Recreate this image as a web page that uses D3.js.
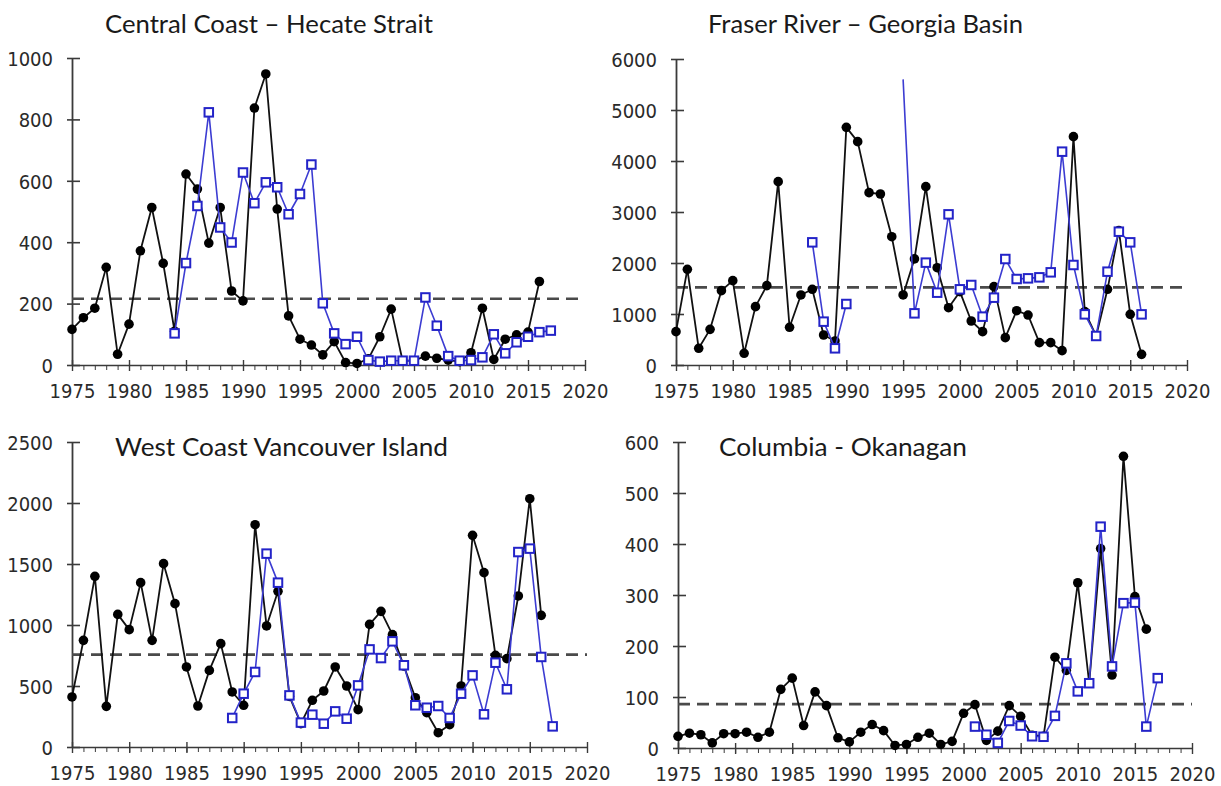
<!DOCTYPE html>
<html>
<head>
<meta charset="utf-8">
<script src="https://cdn.jsdelivr.net/npm/d3@7"></script>
<style>
  html, body { margin: 0; padding: 0; background: #fff; }
  svg { display: block; }
  .tick text { font-family: "DejaVu Sans Condensed", "DejaVu Sans", sans-serif; font-stretch: condensed; font-size: 20px; fill: #2a2a2a; }
  .title { font-family: Lato, "Open Sans", sans-serif; font-size: 25px; fill: #1a1a1a; }
</style>
</head>
<body>
<svg id="chart" width="1221" height="786"></svg>
<script>
// ---------- DATA ----------
const xTickYears = [1975, 1980, 1985, 1990, 1995, 2000, 2005, 2010, 2015, 2020];

// Central Coast – Hecate Strait
const cchTitle = "Central Coast \u2013 Hecate Strait";
const cchYTicks = [0, 200, 400, 600, 800, 1000];
const cchBlackStart = 1975;
const cchBlack = [116,154,185,318,35,133,372,513,331,110,622,573,397,513,241,209,837,948,508,160,84,65,33,76,8,5,20,92,182,14,14,29,22,16,11,40,185,18,84,98,107,272];
const cchBlueStart = 1984;
const cchBlue = [103,332,518,823,448,399,627,527,595,579,491,557,653,201,103,68,92,16,11,14,14,14,220,128,29,14,16,25,100,38,74,92,107,112];
const cchMean = 216;

// Fraser River – Georgia Basin
const frgTitle = "Fraser River \u2013 Georgia Basin";
const frgYTicks = [0, 1000, 2000, 3000, 4000, 5000, 6000];
const frgBlackStart = 1975;
const frgBlack = [654,1876,327,699,1458,1654,229,1144,1556,3595,739,1373,1484,588,471,4660,4379,3379,3353,2516,1373,2080,3497,1908,1124,1438,863,654,1536,536,1065,980,438,438,281,4477,1046,569,1484,2634,993,209];
const frgBlueStart = 1987;
const frgBlue = [2405,850,327,1196,null,null,null,null,5600,1013,2007,1418,2954,1484,1569,948,1320,2078,1686,1699,1719,1817,4183,1961,993,569,1830,2614,2405,993];
const frgBlueNoMarker = [1995];
const frgMean = 1523;

// West Coast Vancouver Island
const wcviTitle = "West Coast Vancouver Island";
const wcviYTicks = [0, 500, 1000, 1500, 2000, 2500];
const wcviBlackStart = 1975;
const wcviBlack = [410,874,1399,333,1087,962,1347,874,1503,1175,656,336,628,847,451,342,1822,992,1276,415,191,383,459,656,500,306,1005,1112,921,664,404,281,117,183,500,1735,1429,751,724,1238,2035,1079];
const wcviBlueStart = 1989;
const wcviBlue = [238,437,615,1585,1347,423,200,265,191,292,232,505,800,729,866,670,342,322,336,238,437,587,268,691,473,1598,1626,738,169];
const wcviMean = 757;

// Columbia - Okanagan
const coTitle = "Columbia - Okanagan";
const coYTicks = [0, 100, 200, 300, 400, 500, 600];
const coBlackStart = 1975;
const coBlack = [23,29,26,10,28,28,31,21,31,115,137,44,110,83,20,12,31,46,34,5,7,21,29,7,13,68,85,15,33,83,62,25,23,178,152,324,127,391,143,572,297,233];
const coBlueStart = 2001;
const coBlue = [42,26,10,53,44,23,22,63,166,111,127,434,160,284,285,42,137];
const coMean = 86;

// ---------- LAYOUT ----------
const panels = [
  { title: cchTitle, tx: 105, ty: 33, tw: 328, xl: 72, xr: 585, yb: 365, yt: 58, yTicks: cchYTicks,
    black: cchBlack, blackStart: cchBlackStart, blue: cchBlue, blueStart: cchBlueStart, noMarker: [], mean: cchMean },
  { title: frgTitle, tx: 708, ty: 33, tw: 315, xl: 676, xr: 1187, yb: 365, yt: 59, yTicks: frgYTicks,
    black: frgBlack, blackStart: frgBlackStart, blue: frgBlue, blueStart: frgBlueStart, noMarker: frgBlueNoMarker, mean: frgMean },
  { title: wcviTitle, tx: 115, ty: 456, tw: 333, xl: 72, xr: 587, yb: 747, yt: 442, yTicks: wcviYTicks,
    black: wcviBlack, blackStart: wcviBlackStart, blue: wcviBlue, blueStart: wcviBlueStart, noMarker: [], mean: wcviMean },
  { title: coTitle, tx: 719, ty: 456, tw: 248, xl: 678, xr: 1192, yb: 748, yt: 442, yTicks: coYTicks,
    black: coBlack, blackStart: coBlackStart, blue: coBlue, blueStart: coBlueStart, noMarker: [], mean: coMean }
];

const svg = d3.select("#chart");
const AXIS = "#3a3a3a";
const BLUE_LINE = "#3c3cd2";
const BLUE_MARK = "#2323c8";

panels.forEach(p => {
  const g = svg.append("g");
  const x = d3.scaleLinear().domain([1975, 2020]).range([p.xl, p.xr]);
  const y = d3.scaleLinear().domain([0, d3.max(p.yTicks)]).range([p.yb, p.yt]);

  // minor x ticks
  const minor = g.append("g").attr("transform", `translate(0,${p.yb})`)
    .call(d3.axisBottom(x).tickValues(d3.range(1975, 2021)).tickSize(5).tickSizeOuter(0).tickFormat(""));
  minor.select(".domain").remove();
  minor.selectAll("line").attr("stroke", AXIS).attr("stroke-width", 1);

  // major x axis
  const xa = g.append("g").attr("transform", `translate(0,${p.yb})`)
    .call(d3.axisBottom(x).tickValues(xTickYears).tickFormat(d3.format("d")).tickSize(6).tickPadding(13).tickSizeOuter(0));
  xa.select(".domain").attr("stroke", AXIS).attr("stroke-width", 1.6);
  xa.selectAll(".tick line").attr("y1", -5).attr("stroke", AXIS).attr("stroke-width", 1.4);

  // y axis
  const ya = g.append("g").attr("transform", `translate(${p.xl},0)`)
    .call(d3.axisLeft(y).tickValues(p.yTicks).tickFormat(d3.format("d")).tickSize(5).tickPadding(14).tickSizeOuter(0));
  ya.select(".domain").attr("stroke", AXIS).attr("stroke-width", 1.8);
  ya.selectAll(".tick line").attr("x1", 8).attr("stroke", AXIS).attr("stroke-width", 1.6);
  ya.selectAll(".tick text").attr("dy", "0.36em");

  // mean dashed line
  g.append("line")
    .attr("x1", x(1975)).attr("x2", x(2020))
    .attr("y1", y(p.mean)).attr("y2", y(p.mean))
    .attr("stroke", "#4a4a4a").attr("stroke-width", 2.6).attr("stroke-dasharray", "12 7");

  const blackData = p.black.map((v, i) => ({ yr: p.blackStart + i, v }));
  const blueData = p.blue.map((v, i) => ({ yr: p.blueStart + i, v }));
  const line = d3.line().defined(d => d.v != null).x(d => x(d.yr)).y(d => y(d.v));

  // black series
  g.append("path").datum(blackData).attr("d", line)
    .attr("fill", "none").attr("stroke", "#111").attr("stroke-width", 1.8).attr("stroke-linejoin", "round");
  g.selectAll(".bdot").data(blackData.filter(d => d.v != null)).join("circle")
    .attr("cx", d => x(d.yr)).attr("cy", d => y(d.v)).attr("r", 4.8).attr("fill", "#000");

  // blue series
  g.append("path").datum(blueData).attr("d", line)
    .attr("fill", "none").attr("stroke", BLUE_LINE).attr("stroke-width", 1.6).attr("stroke-linejoin", "round");
  const s = 8.5;
  g.selectAll(".bsq").data(blueData.filter(d => d.v != null && !p.noMarker.includes(d.yr))).join("rect")
    .attr("x", d => x(d.yr) - s / 2).attr("y", d => y(d.v) - s / 2)
    .attr("width", s).attr("height", s)
    .attr("fill", "#fff").attr("stroke", BLUE_MARK).attr("stroke-width", 2);

  // title
  g.append("text").attr("class", "title")
    .attr("x", p.tx).attr("y", p.ty)
    .attr("textLength", p.tw).attr("lengthAdjust", "spacingAndGlyphs")
    .text(p.title);
});
</script>
</body>
</html>
